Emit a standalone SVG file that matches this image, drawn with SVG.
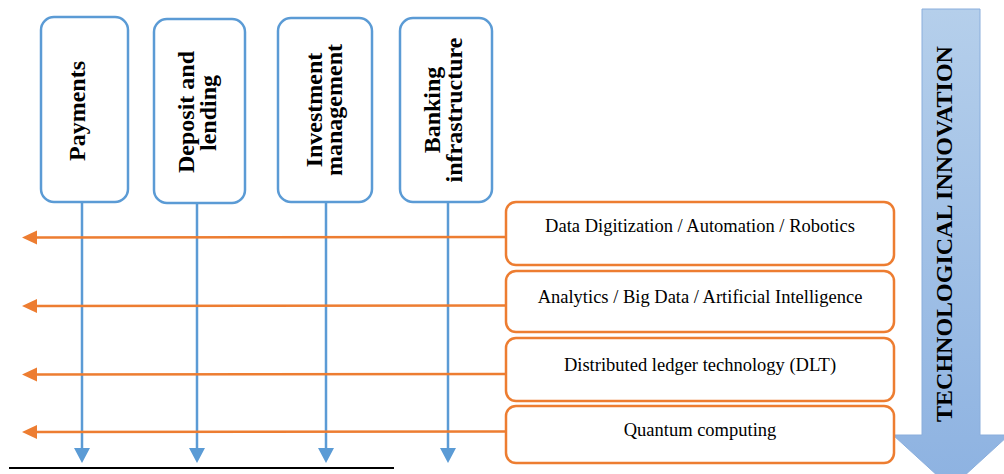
<svg xmlns="http://www.w3.org/2000/svg" width="1004" height="474" viewBox="0 0 1004 474">
<defs>
<linearGradient id="bigArrowGrad" x1="0" y1="0" x2="0" y2="1">
<stop offset="0" stop-color="#b5cfeb"/>
<stop offset="1" stop-color="#8db2e1"/>
</linearGradient>
<marker id="blueHead" markerWidth="16" markerHeight="15" refX="8" refY="15" orient="auto-start-reverse" markerUnits="userSpaceOnUse" viewBox="0 0 16 15">
<path d="M0,0 L16,0 L8,15 Z" fill="#5b9bd5"/>
</marker>
<style>
.bluebox{fill:#fff;stroke:#5b9bd5;stroke-width:2.5}
.orangebox{fill:#fff;stroke:#ed7d31;stroke-width:2.5}
.vlabel{font-family:"Liberation Serif","Times New Roman",serif;font-weight:bold;font-size:24px;fill:#000;text-anchor:middle}
.hlabel{font-family:"Liberation Serif","Times New Roman",serif;font-size:18.5px;fill:#000;text-anchor:middle}
.bline{stroke:#5b9bd5;stroke-width:2.5;fill:none}
.oline{stroke:#ed7d31;stroke-width:2.5;fill:none}
.ohead{fill:#ed7d31}
.bhead{fill:#5b9bd5}
</style>
</defs>

<!-- big arrow -->
<g id="technological-innovation">
<path d="M922,9 L980,9 L980,435 L1009,435 L951,488 L893,435 L922,435 Z" fill="url(#bigArrowGrad)" stroke="#8aaedc" stroke-width="1"/>
<text class="vlabel" transform="translate(952,234) rotate(-90)">TECHNOLOGICAL INNOVATION</text>
</g>

<!-- connectors -->
<g id="connectors">
<line class="bline" x1="82" y1="202" x2="82" y2="449"/>
<path class="bhead" d="M74,448 L90,448 L82,463 Z"/>
<line class="bline" x1="197" y1="203" x2="197" y2="449"/>
<path class="bhead" d="M189,448 L205,448 L197,463 Z"/>
<line class="bline" x1="326" y1="202" x2="326" y2="449"/>
<path class="bhead" d="M318,448 L334,448 L326,463 Z"/>
<line class="bline" x1="448" y1="202" x2="448" y2="449"/>
<path class="bhead" d="M440,448 L456,448 L448,463 Z"/>

<line class="oline" x1="506" y1="237" x2="36" y2="237.5"/>
<path class="ohead" d="M22,237.5 L37,230.5 L37,244.5 Z"/>
<line class="oline" x1="506" y1="305.5" x2="36" y2="306"/>
<path class="ohead" d="M22,306 L37,299 L37,313 Z"/>
<line class="oline" x1="506" y1="374" x2="36" y2="374.5"/>
<path class="ohead" d="M22,374.5 L37,367.5 L37,381.5 Z"/>
<line class="oline" x1="506" y1="431.5" x2="36" y2="432"/>
<path class="ohead" d="M22,432 L37,425 L37,439 Z"/>
</g>

<!-- blue nodes -->
<g id="payments">
<rect class="bluebox" x="41" y="17" width="87" height="185" rx="13"/>
<text class="vlabel" transform="translate(85,111) rotate(-90)">Payments</text>
</g>
<g id="deposit-lending">
<rect class="bluebox" x="154" y="19" width="91" height="184" rx="13"/>
<text class="vlabel" transform="translate(194,112) rotate(-90)">Deposit and</text>
<text class="vlabel" transform="translate(216,113) rotate(-90)">lending</text>
</g>
<g id="investment-management">
<rect class="bluebox" x="278" y="18" width="94" height="184" rx="13"/>
<text class="vlabel" transform="translate(322,110) rotate(-90)">Investment</text>
<text class="vlabel" transform="translate(342,110) rotate(-90)">management</text>
</g>
<g id="banking-infrastructure">
<rect class="bluebox" x="400" y="18" width="92" height="184" rx="13"/>
<text class="vlabel" transform="translate(440,110) rotate(-90)">Banking</text>
<text class="vlabel" transform="translate(462,110) rotate(-90)">infrastructure</text>
</g>

<!-- orange nodes -->
<g id="data-digitization">
<rect class="orangebox" x="506" y="202" width="388" height="63" rx="10"/>
<text class="hlabel" x="700" y="232">Data Digitization / Automation / Robotics</text>
</g>
<g id="analytics">
<rect class="orangebox" x="506" y="271" width="388" height="61" rx="10"/>
<text class="hlabel" x="700" y="303">Analytics / Big Data / Artificial Intelligence</text>
</g>
<g id="dlt">
<rect class="orangebox" x="506" y="338" width="388" height="63" rx="10"/>
<text class="hlabel" x="700" y="371">Distributed ledger technology (DLT)</text>
</g>
<g id="quantum">
<rect class="orangebox" x="506" y="406" width="388" height="57" rx="10"/>
<text class="hlabel" x="700" y="436">Quantum computing</text>
</g>

<line x1="9" y1="468" x2="394" y2="468" stroke="#000" stroke-width="2"/>
</svg>
